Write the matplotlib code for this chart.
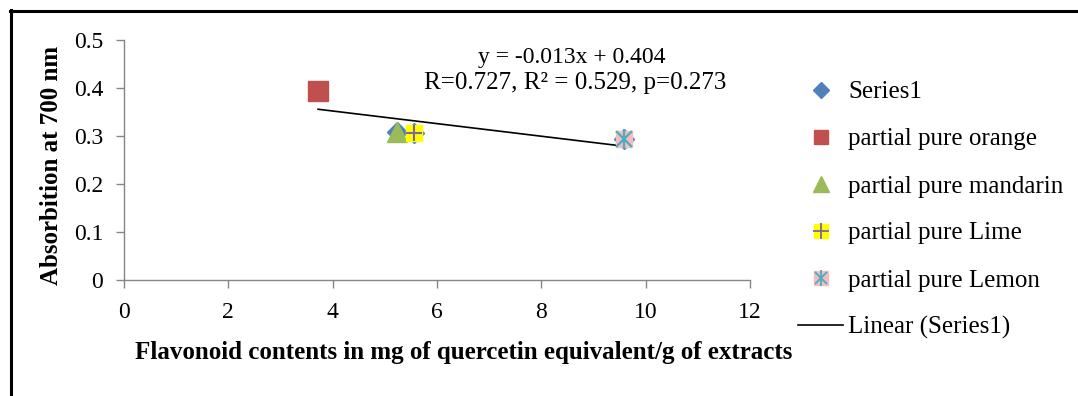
import numpy as np
import matplotlib
matplotlib.use("Agg")
import matplotlib.pyplot as plt
from matplotlib.lines import Line2D
from matplotlib.legend_handler import HandlerTuple

plt.rcParams['font.family'] = ['Liberation Serif', 'DejaVu Serif']

# Data
series1_x = [3.72, 5.23, 5.56, 9.58]
series1_y = [0.394, 0.308, 0.306, 0.294]
orange_x, orange_y = [3.72], [0.394]
mandarin_x, mandarin_y = [5.23], [0.308]
lime_x, lime_y = [5.56], [0.306]
lemon_x, lemon_y = [9.58], [0.294]
x_ticks = [0, 2, 4, 6, 8, 10, 12]
y_ticks = [0, 0.1, 0.2, 0.3, 0.4, 0.5]
y_ticklabels = ['0', '0.1', '0.2', '0.3', '0.4', '0.5']
eq_text = "y = -0.013x + 0.404"
stat_text = "R=0.727, R² = 0.529, p=0.273"
legend_labels = ["Series1", "partial pure orange", "partial pure mandarin",
                 "partial pure Lime", "partial pure Lemon", "Linear (Series1)"]
x_label = "Flavonoid contents in mg of quercetin equivalent/g of extracts"
y_label = "Absorbition at 700 nm"

C_BLUE, C_RED, C_GREEN = '#4F81BD', '#C0504D', '#9BBB59'
C_YEL, C_PURP, C_PINK, C_CYAN = '#FFFF00', '#8064A2', '#F2BDBB', '#4BACC6'

W, H = 1078, 396
fig = plt.figure(figsize=(W / 100, H / 100), dpi=100)
ax = fig.add_axes([124 / W, 1 - 280 / H, (750 - 124) / W, (280 - 40) / H])

# trend line (least squares fit of Series1)
k, b = np.polyfit(series1_x, series1_y, 1)
xs = np.array([min(series1_x), max(series1_x)])
ax.plot(xs, k * xs + b, color='black', lw=1.2, zorder=2)

ax.plot(series1_x, series1_y, ls='none', marker='D', ms=10,
        mfc=C_BLUE, mec=C_BLUE, zorder=3)
ax.plot(orange_x, orange_y, ls='none', marker='s', ms=14,
        mfc=C_RED, mec=C_RED, zorder=4)
ax.plot(mandarin_x, mandarin_y, ls='none', marker='^', ms=14,
        mfc=C_GREEN, mec=C_GREEN, zorder=4)
ax.plot(lime_x, lime_y, ls='none', marker='s', ms=11,
        mfc=C_YEL, mec=C_YEL, zorder=4)
ax.plot(lime_x, lime_y, ls='none', marker='+', ms=12, mew=1.5,
        color=C_PURP, zorder=5)
ax.plot(lemon_x, lemon_y, ls='none', marker='s', ms=12,
        mfc=C_PINK, mec=C_PINK, zorder=4)
ax.plot(lemon_x, lemon_y, ls='none', marker='x', ms=11, mew=1.6,
        color=C_CYAN, zorder=5)
ax.plot(lemon_x, lemon_y, ls='none', marker='|', ms=14, mew=1.6,
        color=C_CYAN, zorder=5)

ax.set_xlim(0, 12)
ax.set_ylim(0, 0.5)
ax.set_xticks(x_ticks)
ax.set_xticklabels([str(v) for v in x_ticks])
ax.set_yticks(y_ticks)
ax.set_yticklabels(y_ticklabels)
for s in ['top', 'right']:
    ax.spines[s].set_visible(False)
for s in ['left', 'bottom']:
    ax.spines[s].set_color('#868686')
    ax.spines[s].set_linewidth(1.0)
ax.tick_params(axis='both', colors='#868686', labelcolor='black',
               labelsize=17, length=6, width=1.0, direction='out')
ax.tick_params(axis='y', pad=9)
ax.tick_params(axis='x', pad=10)

fig.text(572 / W, 1 - 58 / H, eq_text, fontsize=17, ha='center', va='center')
fig.text(575 / W, 1 - 83 / H, stat_text, fontsize=18, ha='center', va='center')

fig.text(135 / W, 1 - 352 / H, x_label, fontsize=18, fontweight='bold',
         ha='left', va='center')
fig.text(52 / W, 1 - 165 / H, y_label, fontsize=18,
         fontweight='bold', ha='center', va='center', rotation=90)

# legend proxies
h_s1 = Line2D([], [], ls='none', marker='D', ms=8, mfc=C_BLUE, mec=C_BLUE)
h_or = Line2D([], [], ls='none', marker='s', ms=10, mfc=C_RED, mec=C_RED)
h_ma = Line2D([], [], ls='none', marker='^', ms=11, mfc=C_GREEN, mec=C_GREEN)
h_li = (Line2D([], [], ls='none', marker='s', ms=10, mfc=C_YEL, mec=C_YEL),
        Line2D([], [], ls='none', marker='+', ms=11, mew=1.3, color=C_PURP))
h_le = (Line2D([], [], ls='none', marker='s', ms=10, mfc=C_PINK, mec=C_PINK),
        Line2D([], [], ls='none', marker='x', ms=9, mew=1.3, color=C_CYAN),
        Line2D([], [], ls='none', marker='|', ms=11, mew=1.3, color=C_CYAN))
h_ln = Line2D([], [], color='black', lw=1.2)
handles = [h_s1, h_or, h_ma, h_li, h_le, h_ln]
fig.legend(handles, legend_labels, loc='upper left',
           bbox_to_anchor=(798 / W, 1 - 81 / H), frameon=False, fontsize=18,
           handlelength=1.8, handletextpad=0.2, labelspacing=0.98,
           borderaxespad=0, borderpad=0,
           handler_map={tuple: HandlerTuple(ndivide=1, pad=0)})

# outer frame (only top and left visible in crop)
fig.add_artist(Line2D([10.5 / W, 10.5 / W], [0, 1 - 10 / H], transform=fig.transFigure,
                      color='black', lw=2.2))
fig.add_artist(Line2D([9.5 / W, 1], [1 - 11 / H, 1 - 11 / H], transform=fig.transFigure,
                      color='black', lw=2.2))

fig.savefig('out.png', dpi=100)
